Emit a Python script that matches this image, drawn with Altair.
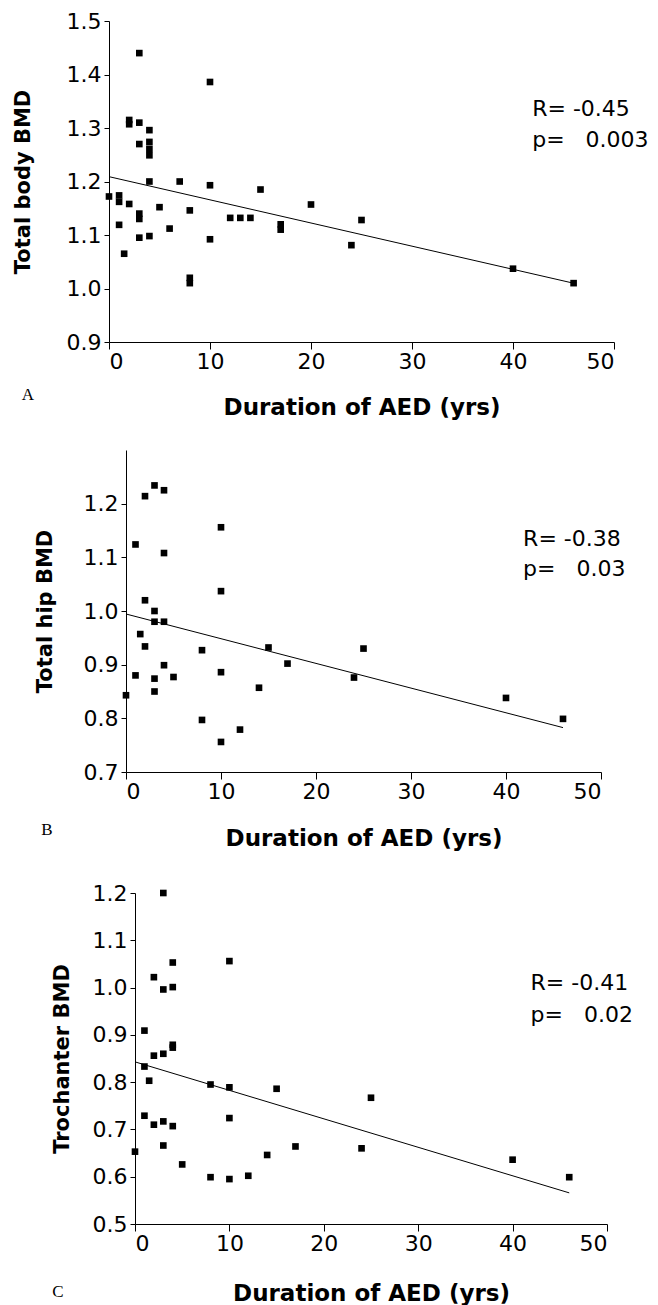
import altair as alt
import pandas as pd

# ---------------- data ----------------
A_DUR = [0, 1, 1, 1, 1.5, 2, 2, 2, 3, 3, 3, 3, 3, 3, 4, 4, 4, 4, 4, 4, 5, 6, 7, 8, 8, 8,
         10, 10, 10, 12, 13, 14, 15, 17, 17, 20, 24, 25, 40, 46]
A_BMD = [1.172, 1.174, 1.162, 1.119, 1.065, 1.315, 1.307, 1.158, 1.44, 1.31, 1.27, 1.14,
         1.13, 1.095, 1.296, 1.274, 1.261, 1.249, 1.2, 1.098, 1.152, 1.112, 1.2, 1.146,
         1.02, 1.01, 1.386, 1.193, 1.092, 1.132, 1.132, 1.132, 1.185, 1.12, 1.11, 1.157,
         1.081, 1.128, 1.037, 1.01]

B_DUR = [0, 1, 1, 1.5, 2, 2, 2, 3, 3, 3, 3, 3, 4, 4, 4, 4, 5, 8, 8, 10, 10, 10, 10,
         12, 14, 15, 17, 24, 25, 40, 46]
B_BMD = [0.843, 1.124, 0.88, 0.957, 1.214, 1.02, 0.934, 1.234, 1.0, 0.98, 0.874, 0.85,
         1.225, 1.108, 0.98, 0.899, 0.877, 0.927, 0.797, 1.156, 1.037, 0.886, 0.756,
         0.779, 0.857, 0.932, 0.902, 0.876, 0.93, 0.838, 0.799]

C_DUR = [0, 1, 1, 1, 1.5, 2, 2, 2, 3, 3, 3, 3, 3, 4, 4, 4, 4, 4, 5, 8, 8, 10, 10, 10, 10,
         12, 14, 15, 17, 24, 25, 40, 46]
C_BMD = [0.653, 0.909, 0.833, 0.729, 0.803, 1.022, 0.856, 0.71, 1.2, 0.996, 0.86, 0.717,
         0.666, 1.053, 1.001, 0.879, 0.873, 0.707, 0.626, 0.795, 0.599, 1.056, 0.789,
         0.724, 0.595, 0.602, 0.646, 0.786, 0.664, 0.66, 0.767, 0.636, 0.599]

X_TICKS = [0, 10, 20, 30, 40, 50]
A_TICKS = [0.9, 1.0, 1.1, 1.2, 1.3, 1.4, 1.5]
B_TICKS = [0.7, 0.8, 0.9, 1.0, 1.1, 1.2]
C_TICKS = [0.5, 0.6, 0.7, 0.8, 0.9, 1.0, 1.1, 1.2]

X_TITLE = "Duration of AED (yrs)"
STATS = {
    "A": ["R= -0.45", "p=\u00a0\u00a0\u00a00.003"],
    "B": ["R= -0.38", "p=\u00a0\u00a0\u00a00.03"],
    "C": ["R= -0.41", "p=\u00a0\u00a0\u00a00.02"],
}

FONT = "DejaVu Sans"


def panel(dur, bmd, ytitle, ydomain, yticks, width, height, x0, ytpad,
          stats, stat_x, stat_y, letter, letter_xy, xtpad, ytop=0):
    df = pd.DataFrame({"dur": dur, "bmd": bmd})
    xs = alt.Scale(domain=[0, 50], range=[x0, width], nice=False, zero=False)
    ys = alt.Scale(domain=ydomain, range=[height, ytop], nice=False, zero=False)
    xax = alt.Axis(values=X_TICKS, format="d", title=X_TITLE, tickSize=7,
                   labelPadding=2, titleFontSize=23, titlePadding=xtpad)
    yax = alt.Axis(values=yticks, format=".1f", title=ytitle, tickSize=5,
                   labelPadding=3, titleFontSize=21, titlePadding=ytpad,
                   offset=-x0)
    base = alt.Chart(df)
    pts = base.mark_square(size=44, color="black", opacity=1).encode(
        x=alt.X("dur:Q", scale=xs, axis=xax),
        y=alt.Y("bmd:Q", scale=ys, axis=yax),
    )
    line = base.transform_regression("dur", "bmd").mark_line(
        color="black", strokeWidth=1).encode(x="dur:Q", y="bmd:Q")
    sdf = pd.DataFrame({"sx": [stat_x, stat_x], "sy": stat_y, "st": stats})
    txt = alt.Chart(sdf).mark_text(align="left", baseline="middle", font=FONT,
                                   fontSize=22, color="black").encode(
        x="sx:Q", y="sy:Q", text="st:N")
    ldf = pd.DataFrame({"lt": [letter]})
    let = alt.Chart(ldf).mark_text(align="center", baseline="middle",
                                   font="Liberation Serif", fontSize=17,
                                   color="black").encode(
        x=alt.value(letter_xy[0]), y=alt.value(letter_xy[1]), text="lt:N")
    return alt.layer(pts, line, txt, let).properties(width=width, height=height)


pA = panel(A_DUR, A_BMD, "Total body BMD", [0.9, 1.5], A_TICKS, 505, 321, 0, 33,
           STATS["A"], 41.9, [1.335, 1.277], "A", (-81, 374), 24)
pB = panel(B_DUR, B_BMD, "Total hip BMD", [0.7, 1.3], B_TICKS, 492, 322, 17, 28,
           STATS["B"], 41.8, [1.135, 1.079], "B", (-62, 380), 25)
pC = panel(C_DUR, C_BMD, "Trochanter BMD", [0.5, 1.2], C_TICKS, 498, 344, 26, 20,
           STATS["C"], 41.9, [1.009, 0.941], "C", (-51, 412), 28, ytop=13)

chart = alt.vconcat(pA, pB, pC, spacing=108, bounds="flush").properties(
    padding={"left": 4, "top": 2, "right": 0, "bottom": 0}
).configure_view(stroke=None).configure_axis(
    grid=False, domainColor="black", tickColor="black", labelColor="black",
    titleColor="black", labelFont=FONT, labelFontSize=22, titleFont=FONT,
    titleFontWeight="bold", domainWidth=1, tickWidth=1
)

chart.save("out.html", embed_options={"renderer": "svg", "actions": False})
